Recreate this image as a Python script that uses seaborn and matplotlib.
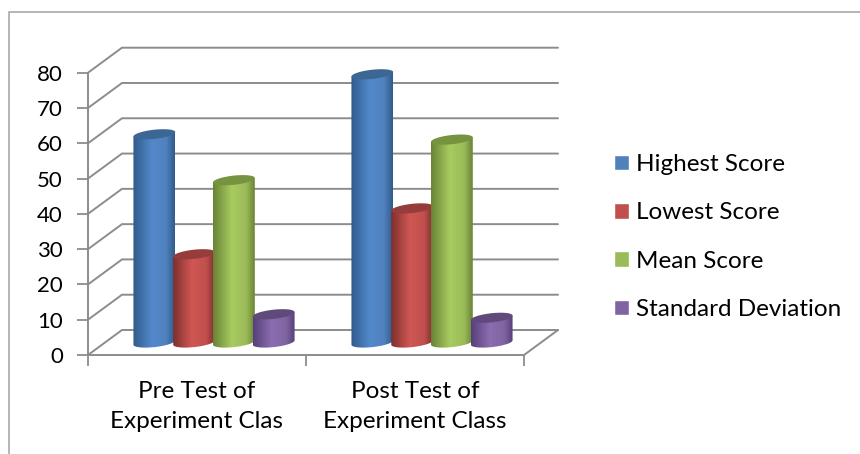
import matplotlib
matplotlib.use("Agg")
import matplotlib.pyplot as plt
import numpy as np
import pandas as pd
import seaborn as sns
from matplotlib.colors import LinearSegmentedColormap, to_rgb
from matplotlib.patches import Polygon

groups = ["Pre Test of\nExperiment Clas", "Post Test of\nExperiment Class"]
series = ["Highest Score", "Lowest Score", "Mean Score", "Standard Deviation"]
highest = [59, 76]
lowest = [25, 38]
mean = [46, 57.5]
std_dev = [8, 7]
yticks = [0, 10, 20, 30, 40, 50, 60, 70, 80]

colors = ["#4f81bd", "#c0504d", "#9bbb59", "#8064a2"]
lights = ["#5289cc", "#d05753", "#a8cb60", "#8b6db0"]
darks = ["#315b8c", "#7f302e", "#6a8436", "#57407a"]
caps = ["#3c6795", "#963c3a", "#76943f", "#604a7b"]
GRAY = "#8c8c8c"

W, H = 860, 454
sns.set_theme(style="white")
plt.rcParams["font.family"] = ["Lato", "DejaVu Sans"]

rows = []
for name, vals in zip(series, [highest, lowest, mean, std_dev]):
    for g, v in zip(groups, vals):
        rows.append({"group": g, "series": name, "score": v})
df = pd.DataFrame(rows)


def box(x0, x1, ytop, ybottom):
    return [x0 / W, 1 - ybottom / H, (x1 - x0) / W, (ybottom - ytop) / H]


fig = plt.figure(figsize=(W / 100, H / 100), dpi=100, facecolor="white")

# outer chart frame, only left and top show
fig.add_artist(plt.Line2D([9 / W, 9 / W, 1], [0, 1 - 12 / H, 1 - 12 / H], color="#a0a0a0", lw=1.1))

# front plane carries the axes, the bars sit half way back
front = fig.add_axes(box(88, 524, 72.7, 355))
ax = fig.add_axes(box(105, 541, 60.2, 342.5))
ax.patch.set_visible(False)

front.set_xlim(-0.5, 1.5)
front.set_ylim(0, 80)
depth_x, depth_y = 34 / 218, 25 / 3.529

for v in yticks:
    front.plot([-0.5, -0.5 + depth_x, 1.5 + depth_x], [v, v + depth_y, v + depth_y],
               color=GRAY, lw=1.4, clip_on=False, solid_joinstyle="miter")
front.plot([1.5, 1.5 + depth_x], [0, depth_y], color=GRAY, lw=1.4, clip_on=False)

for s in ["top", "right"]:
    front.spines[s].set_visible(False)
for s in ["left", "bottom"]:
    front.spines[s].set_color(GRAY)
    front.spines[s].set_linewidth(1.4)
front.set_yticks(yticks)
front.set_xticks([0, 1])
front.set_xticklabels(groups, linespacing=1.52)
front.set_xticks([-0.5, 0.5, 1.5], minor=True)
front.tick_params(axis="y", left=True, length=8, width=1.3, color=GRAY, labelsize=16, pad=10, labelcolor="black")
front.tick_params(axis="x", which="major", bottom=False, labelsize=17.5, pad=13, labelcolor="black")
front.tick_params(axis="x", which="minor", bottom=True, length=8, width=1.3, color=GRAY)

sns.barplot(data=df, x="group", y="score", hue="series", hue_order=series, palette=colors,
            saturation=1, width=0.73, gap=0, ax=ax)
ax.set_xlim(-0.5, 1.5)
ax.set_ylim(0, 80)
ax.axis("off")

sns.move_legend(ax, "upper left", bbox_to_anchor=(614 / W, 1 - 154 / H),
                bbox_transform=fig.transFigure, title=None, frameon=False, fontsize=17.5,
                handlelength=0.62, handleheight=0.62, handletextpad=0.29, labelspacing=1.125,
                borderpad=0, borderaxespad=0)
for t in ax.get_legend().get_texts():
    t.set_color("black")

# turn the flat bars into shaded cylinders
t = np.linspace(0, 2 * np.pi, 121)
b_val, tilt_val = 4.6 / 3.529, 2.2 / 3.529
z = 3
for i, cont in enumerate(ax.containers):
    cmap = LinearSegmentedColormap.from_list(
        "c", [(0, to_rgb(darks[i])), (0.45, to_rgb(lights[i])), (0.8, to_rgb(colors[i])), (1, to_rgb(darks[i]))])
    for bar in cont:
        x0, w, h = bar.get_x(), bar.get_width(), bar.get_height()
        bar.set_visible(False)
        cx = x0 + w / 2
        a = w / 2 * 1.05
        ex = cx + a * np.cos(t)
        ey = b_val * np.sin(t) + tilt_val * np.cos(t)
        lower = np.sin(t) <= 0
        arc_x, arc_y = ex[lower], ey[lower]
        order = np.argsort(arc_x)
        body = np.column_stack([np.r_[arc_x[order], cx + a, cx - a],
                                np.r_[arc_y[order], h + tilt_val, h - tilt_val]])
        clip = Polygon(body, transform=ax.transData, fc="none", ec="none")
        clip.set_clip_on(False)
        ax.add_patch(clip)
        im = ax.imshow(np.linspace(0, 1, 64)[None, :], cmap=cmap, aspect="auto", zorder=z,
                       extent=(cx - a, cx + a, -3, h + 3), interpolation="bilinear")
        im.set_clip_box(fig.bbox)
        im.set_clip_path(clip)
        ax.add_patch(Polygon(np.column_stack([ex, h + ey]), fc=caps[i], ec="none", zorder=z + 0.5))
        z += 1
ax.set_xlim(-0.5, 1.5)
ax.set_ylim(0, 80)

fig.savefig("out.png", dpi=100)
